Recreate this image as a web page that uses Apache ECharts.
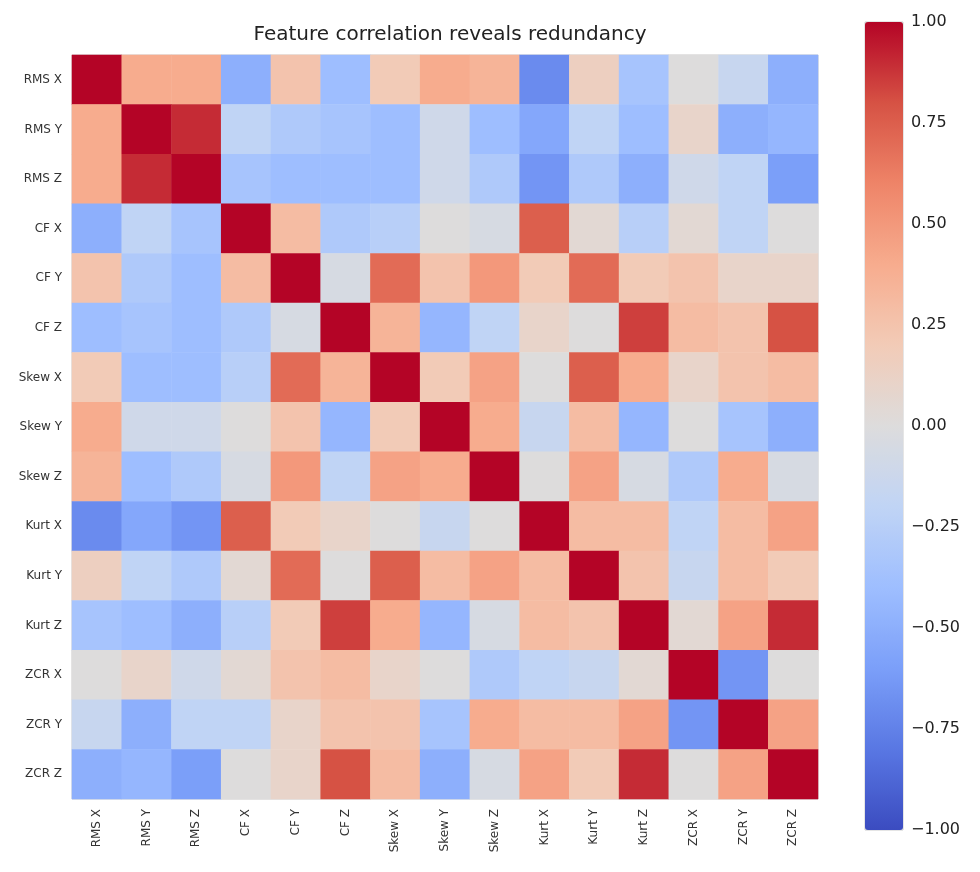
<!DOCTYPE html>
<html>
  <head>
    <meta charset="utf-8" />
    <title>Feature correlation</title>
    <script src="https://cdn.jsdelivr.net/npm/echarts@6/dist/echarts.min.js"></script>
  </head>
  <body style="margin:0">
    <div id="main" style="width: 980px;height:872px;"></div>
    <script type="text/javascript">
      var features = ['RMS X', 'RMS Y', 'RMS Z', 'CF X', 'CF Y', 'CF Z', 'Skew X', 'Skew Y', 'Skew Z',
        'Kurt X', 'Kurt Y', 'Kurt Z', 'ZCR X', 'ZCR Y', 'ZCR Z'];

      // correlation rows
      var rmsX  = [1, 0.4, 0.4, -0.5, 0.25, -0.4, 0.2, 0.4, 0.35, -0.7, 0.15, -0.35, 0.0, -0.15, -0.5];
      var rmsY  = [0.4, 1, 0.9, -0.2, -0.3, -0.35, -0.4, -0.1, -0.4, -0.55, -0.2, -0.4, 0.1, -0.5, -0.45];
      var rmsZ  = [0.4, 0.9, 1, -0.35, -0.4, -0.4, -0.4, -0.1, -0.3, -0.65, -0.3, -0.5, -0.1, -0.2, -0.6];
      var cfX   = [-0.5, -0.2, -0.35, 1, 0.3, -0.3, -0.25, 0.0, -0.05, 0.75, 0.05, -0.25, 0.05, -0.2, 0.0];
      var cfY   = [0.25, -0.3, -0.4, 0.3, 1, -0.05, 0.7, 0.25, 0.5, 0.2, 0.7, 0.2, 0.25, 0.1, 0.1];
      var cfZ   = [-0.4, -0.35, -0.4, -0.3, -0.05, 1, 0.35, -0.45, -0.2, 0.1, 0.0, 0.85, 0.3, 0.25, 0.8];
      var skewX = [0.2, -0.4, -0.4, -0.25, 0.7, 0.35, 1, 0.2, 0.45, 0.0, 0.75, 0.4, 0.1, 0.25, 0.3];
      var skewY = [0.4, -0.1, -0.1, 0.0, 0.25, -0.45, 0.2, 1, 0.4, -0.15, 0.3, -0.45, 0.0, -0.35, -0.5];
      var skewZ = [0.35, -0.4, -0.3, -0.05, 0.5, -0.2, 0.45, 0.4, 1, 0.0, 0.45, -0.05, -0.3, 0.4, -0.05];
      var kurtX = [-0.7, -0.55, -0.65, 0.75, 0.2, 0.1, 0.0, -0.15, 0.0, 1, 0.3, 0.3, -0.2, 0.3, 0.45];
      var kurtY = [0.15, -0.2, -0.3, 0.05, 0.7, 0.0, 0.75, 0.3, 0.45, 0.3, 1, 0.25, -0.15, 0.3, 0.2];
      var kurtZ = [-0.35, -0.4, -0.5, -0.25, 0.2, 0.85, 0.4, -0.45, -0.05, 0.3, 0.25, 1, 0.05, 0.45, 0.9];
      var zcrX  = [0.0, 0.1, -0.1, 0.05, 0.25, 0.3, 0.1, 0.0, -0.3, -0.2, -0.15, 0.05, 1, -0.65, 0.0];
      var zcrY  = [-0.15, -0.5, -0.2, -0.2, 0.1, 0.25, 0.25, -0.35, 0.4, 0.3, 0.3, 0.45, -0.65, 1, 0.45];
      var zcrZ  = [-0.5, -0.45, -0.6, 0.0, 0.1, 0.8, 0.3, -0.5, -0.05, 0.45, 0.2, 0.9, 0.0, 0.45, 1];

      var rows = [rmsX, rmsY, rmsZ, cfX, cfY, cfZ, skewX, skewY, skewZ, kurtX, kurtY, kurtZ, zcrX, zcrY, zcrZ];

      var data = [];
      rows.forEach(function (row, i) {
        row.forEach(function (v, j) { data.push([j, i, v]); });
      });

      var coolwarm = ['#3b4cc0', '#5977e3', '#7b9ff9', '#9ebeff', '#c0d4f5', '#dddcdc',
        '#f2cbb7', '#f7ac8e', '#ee8468', '#d65244', '#b40426'];

      var myChart = echarts.init(document.getElementById('main'));
      var option = {
        backgroundColor: '#fff',
        textStyle: { fontFamily: 'DejaVu Sans' },
        title: {
          text: 'Feature correlation reveals redundancy',
          left: 445, top: 20, textAlign: 'center',
          textStyle: { fontSize: 20, fontWeight: 'normal', color: '#222' }
        },
        grid: [
          { left: 72, top: 55, width: 746, height: 744, show: true, borderColor: '#ccc', borderWidth: 1 },
          { left: 865, top: 22, width: 38, height: 808, show: true, borderColor: '#ccc', borderWidth: 1 }
        ],
        xAxis: [
          {
            type: 'category', data: features, gridIndex: 0,
            axisLine: { show: false }, axisTick: { show: false },
            axisLabel: { rotate: 90, fontSize: 12, color: '#333', margin: 10 },
            splitLine: { show: false }
          },
          { type: 'value', gridIndex: 1, show: false, min: 0, max: 1 }
        ],
        yAxis: [
          {
            type: 'category', data: features, gridIndex: 0, inverse: true,
            axisLine: { show: false }, axisTick: { show: false },
            axisLabel: { fontSize: 12, color: '#333', margin: 10 },
            splitLine: { show: false }
          },
          {
            type: 'value', gridIndex: 1, position: 'right', min: -1, max: 1, interval: 0.25,
            axisLine: { show: false }, axisTick: { show: false }, splitLine: { show: false },
            axisLabel: {
              fontSize: 16, color: '#222', margin: 8,
              formatter: function (v) { return v.toFixed(2).replace('-', '\u2212'); }
            }
          }
        ],
        visualMap: {
          type: 'continuous', min: -1, max: 1, calculable: false,
          left: 865, top: 22, itemWidth: 38, itemHeight: 808, padding: 0,
          text: ['', ''], showLabel: false, hoverLink: false, seriesIndex: 0,
          inRange: { color: coolwarm }
        },
        series: [{
          type: 'heatmap', xAxisIndex: 0, yAxisIndex: 0, data: data,
          itemStyle: { borderWidth: 0 }
        }]
      };
      myChart.setOption(option);
    </script>
  </body>
</html>
